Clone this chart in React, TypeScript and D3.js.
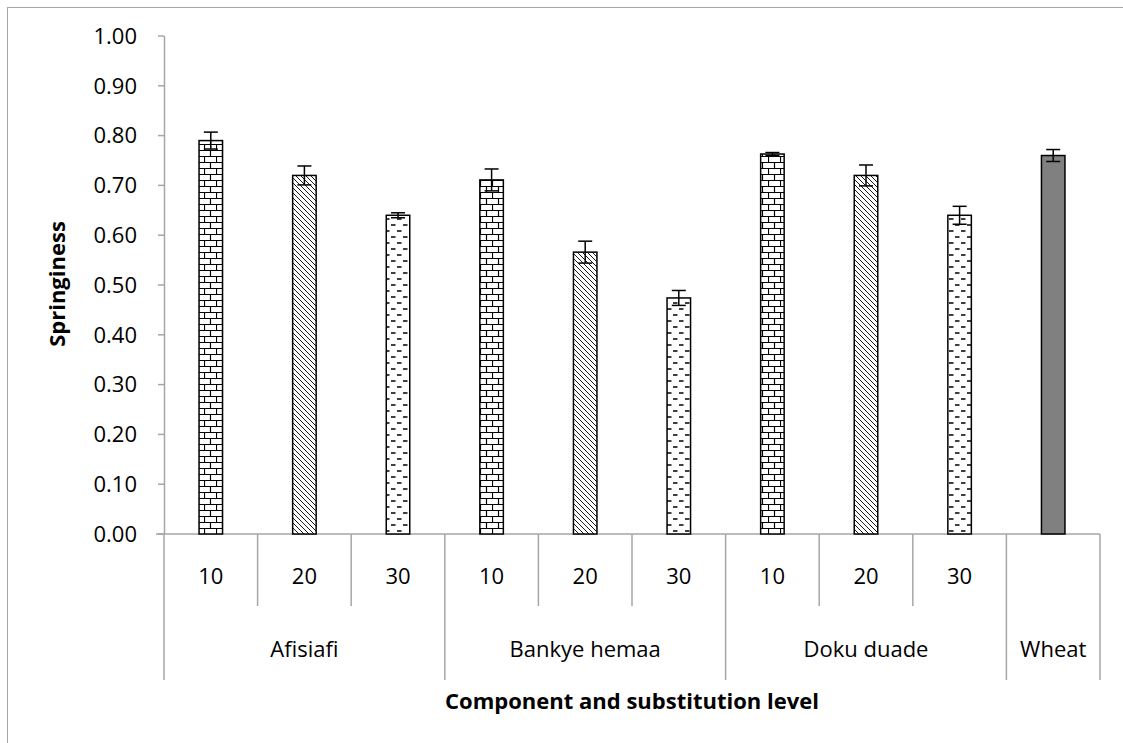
import React from "react";
import * as d3 from "d3";

const groups = ["Afisiafi", "Bankye hemaa", "Doku duade", "Wheat"];
const levels = ["10", "20", "30", "10", "20", "30", "10", "20", "30", ""];
const groupOf = [0, 0, 0, 1, 1, 1, 2, 2, 2, 3];
const patternOf = ["brick", "hatch", "dash", "brick", "hatch", "dash", "brick", "hatch", "dash", "solid"];
const values = [0.79, 0.72, 0.64, 0.711, 0.566, 0.474, 0.763, 0.72, 0.64, 0.76];
const errors = [0.017, 0.019, 0.005, 0.022, 0.022, 0.015, 0.003, 0.021, 0.018, 0.012];
const yTicks = [0, 0.1, 0.2, 0.3, 0.4, 0.5, 0.6, 0.7, 0.8, 0.9, 1.0];

const W = 1123, H = 743;
const L = 164, R = 1100, T = 36, B = 534;
const FONT = "'Open Sans', sans-serif";
const GRID = "#a6a6a6";

export default function App() {
  const x = d3.scaleBand<number>().domain(d3.range(values.length)).range([L, R]).paddingInner(0).paddingOuter(0);
  const y = d3.scaleLinear().domain([0, 1]).range([B, T]);
  const bw = 23.5;
  const cap = 7;
  const fill = (p: string) => (p === "solid" ? "#808080" : `url(#p-${p})`);

  const groupBounds = groups.map((g, gi) => {
    const idx = d3.range(values.length).filter((i) => groupOf[i] === gi);
    return { name: g, x0: x(idx[0])!, x1: x(idx[idx.length - 1])! + x.bandwidth() };
  });
  const innerSeps = d3.range(1, values.length).filter((i) => groupOf[i] === groupOf[i - 1]);

  return (
    <svg width={W} height={H} style={{ position: "absolute", left: 0, top: 0, background: "#fff" }} fontFamily={FONT}>
      <defs>
        <pattern id="p-brick" patternUnits="userSpaceOnUse" width={12} height={12}>
          <rect width={12} height={12} fill="#fff" />
          <path d="M0,0.5H12M0,6.5H12M0.5,0V6.5M6.5,6.5V12" stroke="#000" strokeWidth={1.2} fill="none" />
        </pattern>
        <pattern id="p-hatch" patternUnits="userSpaceOnUse" width={5} height={5}>
          <rect width={5} height={5} fill="#fff" />
          <path d="M-1,-1L6,6M-1,4L1,6M4,-1L6,1" stroke="#000" strokeWidth={0.9} fill="none" />
        </pattern>
        <pattern id="p-dash" patternUnits="userSpaceOnUse" width={12} height={12}>
          <rect width={12} height={12} fill="#fff" />
          <path d="M1,3H5.5M7,9H11.5" stroke="#000" strokeWidth={1.3} fill="none" />
        </pattern>
      </defs>

      <rect x={7.5} y={7.5} width={W + 10} height={H + 10} fill="none" stroke={GRID} strokeWidth={1} />

      <line x1={L + 0.5} x2={L + 0.5} y1={T} y2={B} stroke={GRID} strokeWidth={1.5} />
      {yTicks.map((t) => (
        <g key={t}>
          <line x1={L - 6} x2={L} y1={y(t)} y2={y(t)} stroke={GRID} strokeWidth={1.5} />
          <text x={137} y={y(t)} dy="0.35em" textAnchor="end" fontSize={22} fill="#000">
            {d3.format(".2f")(t)}
          </text>
        </g>
      ))}
      <text
        transform={`translate(65,284) rotate(-90)`}
        textAnchor="middle"
        fontSize={22}
        fontWeight="bold"
        fill="#000"
      >
        Springiness
      </text>

      <line x1={L - 8} x2={R} y1={B} y2={B} stroke={GRID} strokeWidth={1.5} />
      {groupBounds.map((g) => (
        <line key={"gs" + g.name} x1={g.x0} x2={g.x0} y1={B} y2={680} stroke={GRID} strokeWidth={1.5} />
      ))}
      <line x1={R} x2={R} y1={B} y2={680} stroke={GRID} strokeWidth={1.5} />
      {innerSeps.map((i) => (
        <line key={"is" + i} x1={x(i)!} x2={x(i)!} y1={B} y2={606} stroke={GRID} strokeWidth={1.5} />
      ))}

      {levels.map((l, i) => (
        <text key={"lv" + i} x={x(i)! + x.bandwidth() / 2} y={576} dy="0.35em" textAnchor="middle" fontSize={22} fill="#000">
          {l}
        </text>
      ))}
      {groupBounds.map((g) => (
        <text key={"gl" + g.name} x={(g.x0 + g.x1) / 2} y={649} dy="0.35em" textAnchor="middle" fontSize={22} fill="#000">
          {g.name}
        </text>
      ))}
      <text x={(L + R) / 2} y={701} dy="0.35em" textAnchor="middle" fontSize={22} fontWeight="bold" fill="#000">
        Component and substitution level
      </text>

      {values.map((v, i) => {
        const cx = x(i)! + x.bandwidth() / 2;
        return (
          <rect
            key={"b" + i}
            x={cx - bw / 2}
            y={y(v)}
            width={bw}
            height={B - y(v)}
            fill={fill(patternOf[i])}
            stroke="#000"
            strokeWidth={1.5}
          />
        );
      })}

      {values.map((v, i) => {
        const cx = x(i)! + x.bandwidth() / 2;
        const hi = y(v + errors[i]);
        const lo = y(v - errors[i]);
        return (
          <g key={"e" + i} stroke="#000" strokeWidth={1.5}>
            <line x1={cx} x2={cx} y1={hi} y2={lo} />
            <line x1={cx - cap} x2={cx + cap} y1={hi} y2={hi} />
            <line x1={cx - cap} x2={cx + cap} y1={lo} y2={lo} />
          </g>
        );
      })}
    </svg>
  );
}
